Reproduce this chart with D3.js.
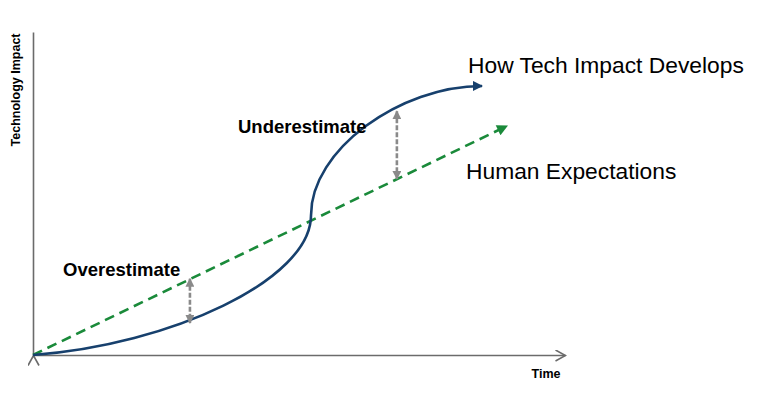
<!DOCTYPE html>
<html>
<head>
<meta charset="utf-8">
<script src="https://cdn.jsdelivr.net/npm/d3@7"></script>
<style>
  html, body { margin: 0; padding: 0; background: #fff; }
  svg { display: block; font-family: "Liberation Sans", Arial, sans-serif; }
</style>
</head>
<body>
<svg id="chart" width="759" height="408"></svg>
<script>
// ---- data (arbitrary 0..100 units on both axes) ----
// tech impact curve: two cubic segments (anchor, ctrl, ctrl, anchor, ctrl, ctrl, anchor)
const techX = [0, 25.75, 52.26, 52.26, 52.26, 68.98, 84.4];
const techY = [0, 3.1, 23.2, 43.3, 63.5, 83.3, 83.3];
const expectX = [0, 89.1];
const expectY = [0, 70.9];
const gapX = [29.5, 68.4];
const gapTop = [23.6, 75.5];
const gapBottom = [9.9, 54.5];
const seriesLabels = ["How Tech Impact Develops", "Human Expectations"];
const gapLabels = ["Overestimate", "Underestimate"];
const axisLabels = { x: "Time", y: "Technology Impact" };

// ---- scales ----
const x = d3.scaleLinear().domain([0, 100]).range([33, 565]);
const y = d3.scaleLinear().domain([0, 100]).range([355, 32]);

const svg = d3.select("#chart");
const defs = svg.append("defs");

function triMarker(id, color, w, h) {
  defs.append("marker")
    .attr("id", id).attr("viewBox", "0 0 10 10")
    .attr("refX", 9).attr("refY", 5)
    .attr("markerUnits", "userSpaceOnUse")
    .attr("markerWidth", w).attr("markerHeight", h)
    .attr("orient", "auto-start-reverse")
    .append("path").attr("d", "M0,0 L10,5 L0,10 Z").attr("fill", color);
}
triMarker("arrBlue", "#17406d", 12, 10);
triMarker("arrGreen", "#1a8a3a", 12, 11);
triMarker("arrGray", "#8a8a8a", 9, 9);

defs.append("marker")
  .attr("id", "chev").attr("viewBox", "0 0 12 12")
  .attr("refX", 11).attr("refY", 6)
  .attr("markerUnits", "userSpaceOnUse")
  .attr("markerWidth", 12).attr("markerHeight", 12)
  .attr("orient", "auto")
  .append("path").attr("d", "M1,0.5 L11,6 L1,11.5")
  .attr("fill", "none").attr("stroke", "#6b6b6b").attr("stroke-width", 1.6);

// ---- axes (no ticks) ----
const gx = svg.append("g").attr("transform", `translate(0,${y(0)})`)
  .call(d3.axisBottom(x).ticks(0).tickSizeOuter(0));
const gy = svg.append("g").attr("transform", `translate(${x(0)},0)`)
  .call(d3.axisLeft(y).ticks(0).tickSizeOuter(0));
[gx, gy].forEach(g => g.select(".domain")
  .attr("stroke", "#6b6b6b").attr("stroke-width", 1.6));
gx.select(".domain").attr("marker-end", "url(#chev)");
gy.select(".domain").attr("marker-start", "url(#chev)");

// ---- expectations line ----
const expectPts = expectX.map((v, i) => [v, expectY[i]]);
svg.append("path")
  .datum(expectPts)
  .attr("d", d3.line().x(d => x(d[0])).y(d => y(d[1])))
  .attr("fill", "none").attr("stroke", "#1a8a3a")
  .attr("stroke-width", 2.6).attr("stroke-dasharray", "10,6")
  .attr("marker-end", "url(#arrGreen)");

// ---- tech impact curve (cubic Bezier segments through scales) ----
const p = d3.path();
const sx = techX.map(x), sy = techY.map(y);
p.moveTo(sx[0], sy[0]);
for (let i = 1; i + 2 < sx.length; i += 3) {
  p.bezierCurveTo(sx[i], sy[i], sx[i + 1], sy[i + 1], sx[i + 2], sy[i + 2]);
}
svg.append("path")
  .attr("d", p.toString())
  .attr("fill", "none").attr("stroke", "#17406d")
  .attr("stroke-width", 2.6)
  .attr("marker-end", "url(#arrBlue)");

// ---- gap arrows ----
gapX.forEach((gxv, i) => {
  svg.append("line")
    .attr("x1", x(gxv)).attr("x2", x(gxv))
    .attr("y1", y(gapTop[i])).attr("y2", y(gapBottom[i]))
    .attr("stroke", "#8a8a8a").attr("stroke-width", 2.6)
    .attr("stroke-dasharray", "5,2")
    .attr("marker-start", "url(#arrGray)")
    .attr("marker-end", "url(#arrGray)");
});

// ---- labels ----
svg.append("text").attr("x", 468).attr("y", 73)
  .attr("font-size", 22.8).attr("fill", "#000").text(seriesLabels[0]);
svg.append("text").attr("x", 466).attr("y", 179)
  .attr("font-size", 22.8).attr("fill", "#000").text(seriesLabels[1]);

svg.append("text").attr("x", 63).attr("y", 276)
  .attr("font-size", 18.5).attr("font-weight", "bold").text(gapLabels[0]);
svg.append("text").attr("x", 238).attr("y", 133)
  .attr("font-size", 18.5).attr("font-weight", "bold").text(gapLabels[1]);

svg.append("text").attr("x", 546).attr("y", 378)
  .attr("text-anchor", "middle")
  .attr("font-size", 12.5).attr("font-weight", "bold").text(axisLabels.x);
svg.append("text")
  .attr("transform", "translate(20,90) rotate(-90)")
  .attr("text-anchor", "middle")
  .attr("font-size", 12.5).attr("font-weight", "bold").text(axisLabels.y);
</script>
</body>
</html>
